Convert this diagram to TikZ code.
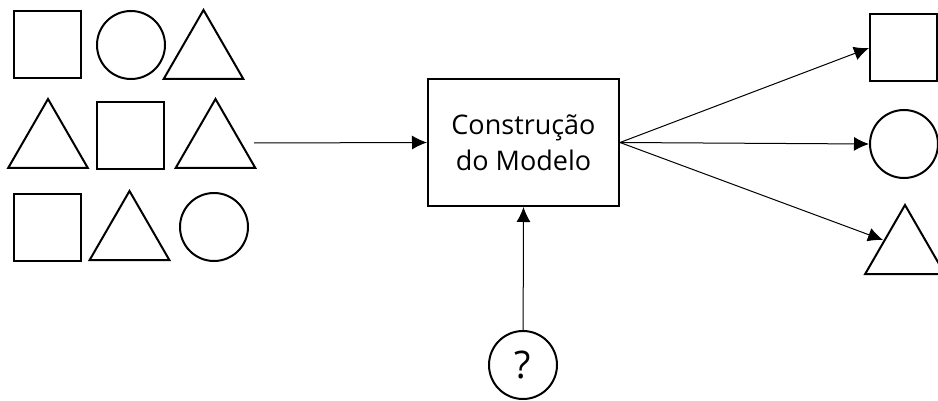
\documentclass[tikz,border=0pt]{standalone}
\usepackage{fontspec}
\setmainfont{Open Sans}
\usetikzlibrary{shapes.geometric,arrows.meta}
\tikzset{
  shape line/.style={draw=black, line width=2pt},
  sq/.style={shape line, rectangle, minimum size=67pt, inner sep=0pt},
  rnd/.style={shape line, circle, minimum size=68pt, inner sep=0pt},
  tri/.style={shape line, regular polygon, regular polygon sides=3, minimum size=92pt, inner sep=0pt},
  modelbox/.style={shape line, rectangle, minimum width=191pt, minimum height=127pt, align=center, font=\fontsize{27}{36}\selectfont},
  link/.style={draw=black, line width=1pt, -{Latex[length=15pt,width=14pt]}}
}
\begin{document}
\begin{tikzpicture}[x=1pt,y=-1pt]
\useasboundingbox (0,0) rectangle (938,401);
% input samples
\node[sq]  (s11) at (47,45) {};
\node[rnd] (s12) at (131,45) {};
\node[tri] (s13) at (203.5,56) {};
\node[tri] (s21) at (48,145) {};
\node[sq]  (s22) at (130.5,135.5) {};
\node[tri] (s23) at (215.5,145) {};
\node[sq]  (s31) at (47,227.5) {};
\node[tri] (s32) at (129.5,237) {};
\node[rnd] (s33) at (214,227) {};
\coordinate (in) at (254,143);
% model
\node[modelbox] (model) at (523.5,142.5) {Construção\\do Modelo};
\node[rnd, font=\fontsize{38}{40}\selectfont] (q) at (523,365) {?};
% outputs
\node[sq]  (o1) at (903.5,48) {};
\node[rnd] (o2) at (904,144) {};
\node[tri] (o3) at (905,251) {};
% connectors
\draw[link] (in) -- (model.west);
\draw[link] (q) -- (model.south);
\draw[link] (model.east) -- (o1.west);
\draw[link] (model.east) -- (o2.west);
\draw[link] (model.east) -- (883,240);
\end{tikzpicture}
\end{document}
